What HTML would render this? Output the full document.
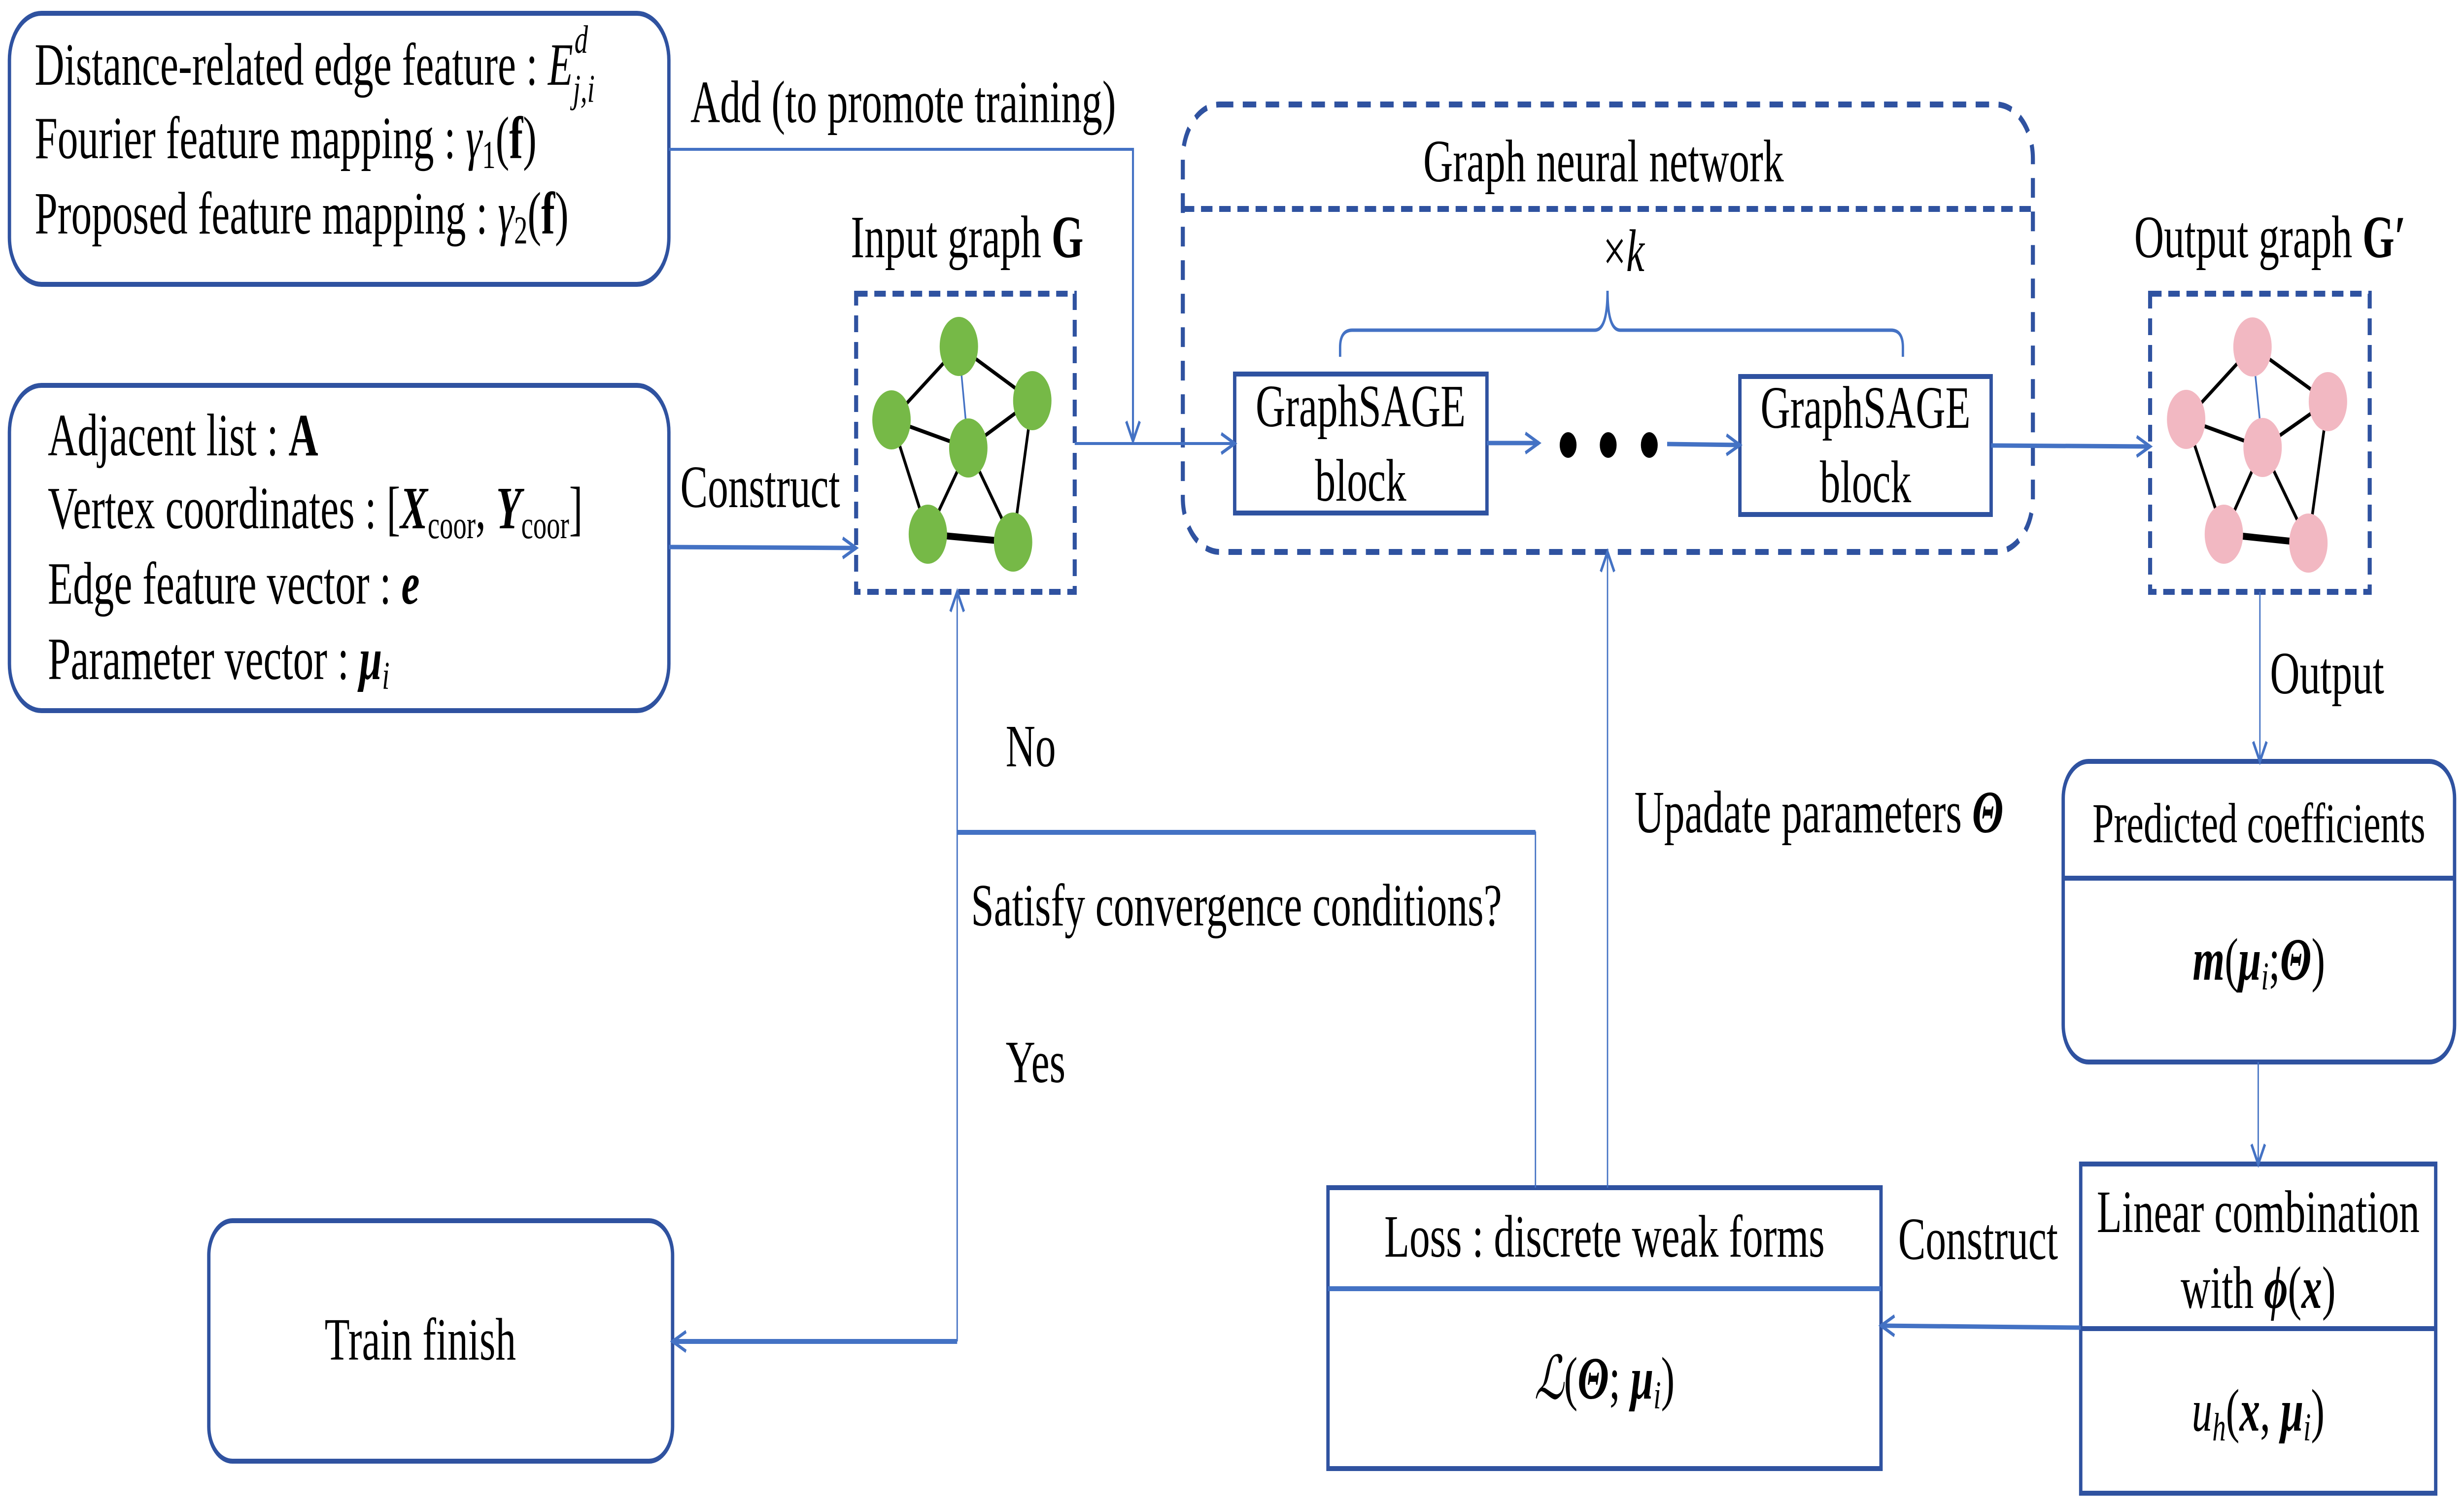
<!DOCTYPE html>
<html><head><meta charset="utf-8"><style>
html,body{margin:0;padding:0;background:#fff;width:100%;height:100%;overflow:hidden;}
svg{display:block;position:absolute;left:0;top:0;width:100vw;height:100vh;}
text{font-family:"Liberation Serif",serif;fill:#000;}
.i{font-style:italic;}
.b{font-weight:bold;}
</style></head><body>
<svg viewBox="0 0 7316 3060" preserveAspectRatio="none" xmlns="http://www.w3.org/2000/svg">
<defs>
<marker id="ar" markerUnits="userSpaceOnUse" markerWidth="60" markerHeight="60" refX="44" refY="24" orient="auto">
<path d="M4,4 L44,24 L4,44" fill="none" stroke="#4472c4" stroke-width="7"/>
</marker>
</defs>
<g fill="none" stroke="#2f52a0" stroke-width="10">
<rect x="28" y="27" width="1958" height="550" rx="95"/>
<rect x="28" y="782" width="1958" height="660" rx="95"/>
<rect x="6126" y="1545" width="1162" height="610" rx="75"/>
<line x1="6126" y1="1782" x2="7288" y2="1782"/>
<rect x="620" y="2477" width="1377" height="488" rx="70"/>
<rect x="3943" y="2410" width="1642" height="570"/>
<line x1="3943" y1="2615" x2="5585" y2="2615" stroke="#4472c4"/>
<rect x="6178" y="2362" width="1054" height="668"/>
<line x1="6178" y1="2696" x2="7232" y2="2696"/>
<rect x="3666" y="759" width="749" height="282"/>
<rect x="5166" y="764" width="746" height="280"/>
</g>
<g fill="none" stroke="#2f52a0" stroke-width="12" stroke-dasharray="34,20">
<rect x="2542" y="596" width="649" height="605"/>
<rect x="6384" y="596" width="652" height="605"/>
<rect x="3512" y="212" width="2524" height="908" rx="110" stroke-dasharray="40,28"/>
<line x1="3512" y1="424" x2="6036" y2="424"/>
</g>
<g fill="none" stroke="#4472c4" stroke-width="6">
<polyline points="1986,303 3364,303 3364,895" marker-end="url(#ar)"/>
<line x1="1986" y1="1110" x2="2542" y2="1112" marker-end="url(#ar)" stroke-width="9"/>
<line x1="3191" y1="900" x2="3666" y2="900" marker-end="url(#ar)"/>
<line x1="4415" y1="899" x2="4569" y2="899" marker-end="url(#ar)" stroke-width="9"/>
<line x1="4950" y1="901" x2="5166" y2="903" marker-end="url(#ar)" stroke-width="9"/>
<line x1="5912" y1="904" x2="6384" y2="906" marker-end="url(#ar)" stroke-width="9"/>
<line x1="6710" y1="1201" x2="6710" y2="1545" marker-end="url(#ar)" stroke-width="4"/>
<line x1="6705" y1="2155" x2="6705" y2="2362" marker-end="url(#ar)" stroke-width="4"/>
<line x1="6178" y1="2694" x2="5585" y2="2690" marker-end="url(#ar)" stroke-width="9"/>
<line x1="4773" y1="2410" x2="4773" y2="1120" marker-end="url(#ar)" stroke-width="4"/>
<polyline points="4559,2410 4559,1689 2842,1689" stroke-width="4"/>
<line x1="2842" y1="1689" x2="4559" y2="1689" stroke-width="10"/>
<line x1="2842" y1="2722" x2="2842" y2="1201" marker-end="url(#ar)" stroke-width="4"/>
<line x1="2842" y1="2722" x2="1997" y2="2722" marker-end="url(#ar)" stroke-width="10"/>
<path d="M3979,724 L3979,705 Q3979,670 4015,670 L4735,670 Q4773,670 4773,590 Q4773,670 4811,670 L5615,670 Q5650,670 5650,705 L5650,724" stroke-width="7"/>
</g>
<g stroke="#000" stroke-width="8">
<line x1="2847" y1="703" x2="2647" y2="852"/><line x1="2847" y1="703" x2="3065" y2="813"/>
<line x1="2647" y1="852" x2="2875" y2="909"/><line x1="2875" y1="909" x2="3065" y2="813"/>
<line x1="2647" y1="852" x2="2755" y2="1084"/><line x1="2875" y1="909" x2="2755" y2="1084"/>
<line x1="2875" y1="909" x2="3008" y2="1100"/><line x1="3065" y1="813" x2="3008" y2="1100"/>
<line x1="2755" y1="1084" x2="3008" y2="1100" stroke-width="14"/>
<line x1="2847" y1="703" x2="2875" y2="909" stroke="#4472c4" stroke-width="5"/>
</g>
<g fill="#76b947">
<ellipse cx="2847" cy="703" rx="57" ry="60"/><ellipse cx="2647" cy="852" rx="57" ry="60"/>
<ellipse cx="3065" cy="813" rx="57" ry="60"/><ellipse cx="2875" cy="909" rx="57" ry="60"/>
<ellipse cx="2755" cy="1084" rx="57" ry="60"/><ellipse cx="3008" cy="1100" rx="57" ry="60"/>
</g>
<g stroke="#000" stroke-width="8">
<line x1="6688" y1="704" x2="6491" y2="851"/><line x1="6688" y1="704" x2="6912" y2="815"/>
<line x1="6491" y1="851" x2="6718" y2="908"/><line x1="6718" y1="908" x2="6912" y2="815"/>
<line x1="6491" y1="851" x2="6603" y2="1084"/><line x1="6718" y1="908" x2="6603" y2="1084"/>
<line x1="6718" y1="908" x2="6854" y2="1102"/><line x1="6912" y1="815" x2="6854" y2="1102"/>
<line x1="6603" y1="1084" x2="6854" y2="1102" stroke-width="14"/>
<line x1="6688" y1="704" x2="6718" y2="908" stroke="#4472c4" stroke-width="5"/>
</g>
<g fill="#f2b8c2">
<ellipse cx="6688" cy="704" rx="57" ry="60"/><ellipse cx="6491" cy="851" rx="57" ry="60"/>
<ellipse cx="6912" cy="815" rx="57" ry="60"/><ellipse cx="6718" cy="908" rx="57" ry="60"/>
<ellipse cx="6603" cy="1084" rx="57" ry="60"/><ellipse cx="6854" cy="1102" rx="57" ry="60"/>
</g>
<g fill="#000"><ellipse cx="4656" cy="903" rx="25" ry="26"/><ellipse cx="4775" cy="903" rx="25" ry="26"/><ellipse cx="4897" cy="903" rx="25" ry="26"/></g>
<g font-size="122">
<text x="103" y="172">Distance-related edge feature : <tspan class="i">E</tspan><tspan class="i" font-size="80" dy="35">j,i</tspan><tspan class="i" font-size="80" dx="-60" dy="-100">d</tspan></text>
<text x="103" y="321">Fourier feature mapping : <tspan class="i">γ</tspan><tspan font-size="80" dy="20">1</tspan><tspan dy="-20">(</tspan><tspan class="b">f</tspan>)</text>
<text x="103" y="474">Proposed feature mapping : <tspan class="i">γ</tspan><tspan font-size="80" dy="20">2</tspan><tspan dy="-20">(</tspan><tspan class="b">f</tspan>)</text>
<text x="142" y="924">Adjacent list : <tspan class="b">A</tspan></text>
<text x="142" y="1072">Vertex coordinates : [<tspan class="i b">X</tspan><tspan font-size="80" dy="20">coor</tspan><tspan dy="-20">, </tspan><tspan class="i b">Y</tspan><tspan font-size="80" dy="20">coor</tspan><tspan dy="-20">]</tspan></text>
<text x="142" y="1225">Edge feature vector :  <tspan class="i b">e</tspan></text>
<text x="142" y="1378">Parameter vector : <tspan class="i b">μ</tspan><tspan class="i" font-size="80" dy="20">i</tspan></text>
<text x="2050" y="248">Add (to promote training)</text>
<text x="2526" y="522">Input graph  <tspan class="b">G</tspan></text>
<text x="2020" y="1029">Construct</text>
<text x="4761" y="368" text-anchor="middle">Graph neural network</text>
<text x="4821" y="550" text-anchor="middle">×<tspan class="i">k</tspan></text>
<text x="4040" y="865" text-anchor="middle">GraphSAGE</text>
<text x="4040" y="1016" text-anchor="middle">block</text>
<text x="5539" y="868" text-anchor="middle">GraphSAGE</text>
<text x="5539" y="1019" text-anchor="middle">block</text>
<text x="6337" y="522">Output graph <tspan class="b">G′</tspan></text>
<text x="6740" y="1407">Output</text>
<text x="2986" y="1555">No</text>
<text x="4853" y="1689">Upadate parameters <tspan class="i b">Θ</tspan></text>
<text x="2883" y="1878">Satisfy convergence conditions?</text>
<text x="2986" y="2196">Yes</text>
<text x="6707" y="1709" text-anchor="middle" font-size="114">Predicted coefficients</text>
<text x="6707" y="1988" text-anchor="middle"><tspan class="i b">m</tspan>(<tspan class="i b">μ</tspan><tspan class="i" font-size="80" dy="20">i</tspan><tspan dy="-20">;</tspan><tspan class="i b">Θ</tspan>)</text>
<text x="6705" y="2500" text-anchor="middle">Linear combination</text>
<text x="6705" y="2654" text-anchor="middle">with <tspan class="i b">ϕ</tspan>(<tspan class="i b">x</tspan>)</text>
<text x="6705" y="2903" text-anchor="middle"><tspan class="i">u</tspan><tspan class="i" font-size="80" dy="20">h</tspan><tspan dy="-20">(</tspan><tspan class="i b">x</tspan>, <tspan class="i b">μ</tspan><tspan class="i" font-size="80" dy="20">i</tspan><tspan dy="-20">)</tspan></text>
<text x="4764" y="2550" text-anchor="middle">Loss : discrete weak forms</text>
<text x="4764" y="2838" text-anchor="middle"><tspan class="i">ℒ</tspan>(<tspan class="i b">Θ</tspan>; <tspan class="i b">μ</tspan><tspan class="i" font-size="80" dy="20">i</tspan><tspan dy="-20">)</tspan></text>
<text x="5636" y="2555">Construct</text>
<text x="1248" y="2759" text-anchor="middle">Train finish</text>
</g>
</svg>
</body></html>
